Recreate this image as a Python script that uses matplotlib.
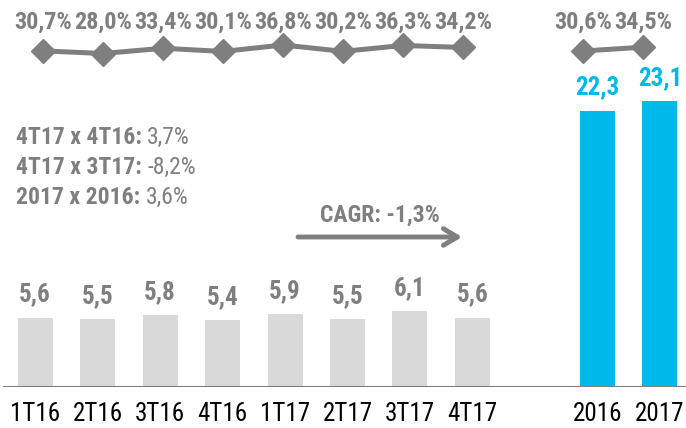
import matplotlib.pyplot as plt

plt.rcParams['font.family'] = ['Roboto Condensed', 'Roboto', 'DejaVu Sans']

quarters = ["1T16", "2T16", "3T16", "4T16", "1T17", "2T17", "3T17", "4T17"]
quarter_vals = [5.6, 5.5, 5.8, 5.4, 5.9, 5.5, 6.1, 5.6]
quarter_pct = [30.7, 28.0, 33.4, 30.1, 36.8, 30.2, 36.3, 34.2]

years = ["2016", "2017"]
year_vals = [22.3, 23.1]
year_pct = [30.6, 34.5]

notes = [("4T17 x 4T16:", "3,7%"), ("4T17 x 3T17:", "-8,2%"), ("2017 x 2016:", "3,6%")]
cagr = "CAGR: -1,3%"

GREY = "#7f7f7f"
LIGHT = "#d9d9d9"
BLUE = "#00b9eb"

def br(v, pct=False):
    s = f"{v:.1f}".replace(".", ",")
    return s + "%" if pct else s

q_pos = list(range(len(quarters)))
y_pos = [9, 10]

fig = plt.figure(figsize=(6.86, 4.28), dpi=100)
W, H = 686, 428
base = 386.7
ax = fig.add_axes([0, (H - base) / H, 1, base / H])
ax.set_xlim(-35 / 62.5, (W - 35) / 62.5)
ax.set_ylim(0, base / 12.35)

ax.bar(q_pos, quarter_vals, width=0.56, color=LIGHT)
ax.bar(y_pos, year_vals, width=0.56, color=BLUE)

for x, v in zip(q_pos, quarter_vals):
    ax.annotate(br(v), (x, v), xytext=(0, 16.5), textcoords="offset points",
                ha="center", va="center", fontsize=18, fontweight="bold", color=GREY)
for x, v in zip(y_pos, year_vals):
    ax.annotate(br(v), (x, v), xytext=(0, 17), textcoords="offset points",
                ha="center", va="center", fontsize=18, fontweight="bold", color=BLUE)

ax.axhline(0, xmin=4 / W, xmax=1, color=GREY, lw=1.5)
for s in ax.spines.values():
    s.set_visible(False)
ax.set_yticks([])
ax.set_xticks(q_pos + y_pos)
ax.set_xticklabels(quarters + years, fontsize=18, color="black")
ax.tick_params(axis="x", length=0, pad=11)

# margin line on its own axes
lx = fig.add_axes(ax.get_position(), frameon=False)
lx.set_xlim(-43 / 60, (W - 43) / 60)
lo = 28 - 333.2 / 0.97
lx.set_ylim(lo, lo + base / 0.97)
lx.set_xticks([])
lx.set_yticks([])
lx.plot(q_pos, quarter_pct, color=GREY, lw=3.6, marker="D", ms=12)
lx.plot(y_pos, year_pct, color=GREY, lw=3.6, marker="D", ms=12)
for xs, ps in ((q_pos, quarter_pct), (y_pos, year_pct)):
    for x, p in zip(xs, ps):
        fig.text((43 + 60 * x) / W, 1 - 22 / H, br(p, True), ha="center", va="center",
                 fontsize=17.5, fontweight="bold", color=GREY)

# comparison notes
for i, (lab, val) in enumerate(notes):
    t = fig.text(16 / W, 1 - (137 + 30 * i) / H, lab + " ", ha="left", va="center",
                 fontsize=17, fontweight="bold", color=GREY)
    ax.annotate(val, xy=(1, 0.5), xycoords=t, ha="left", va="center",
                fontsize=17, color=GREY)

# CAGR arrow
fig.text(380 / W, 1 - 215 / H, cagr, ha="center", va="center",
         fontsize=17, fontweight="bold", color=GREY)
ax.annotate("", xy=(462 / W, 1 - 237 / H), xytext=(298 / W, 1 - 237 / H),
            xycoords="figure fraction", textcoords="figure fraction",
            arrowprops=dict(arrowstyle="->,head_length=1.0,head_width=0.6",
                            color=GREY, lw=3.5, shrinkA=0, shrinkB=0))

fig.savefig("out.png", dpi=100)
